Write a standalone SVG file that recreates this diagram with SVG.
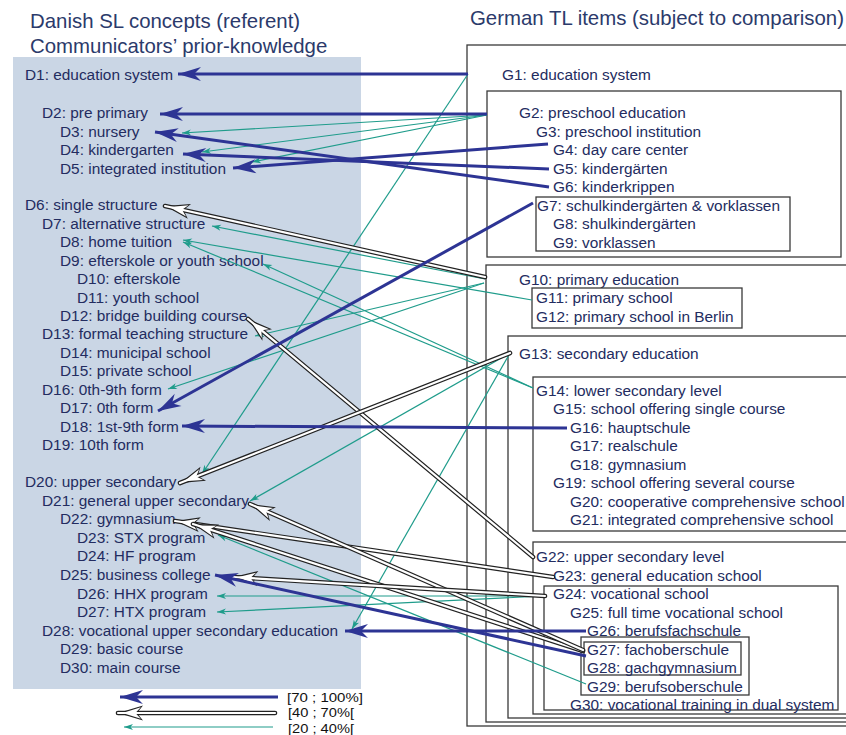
<svg xmlns="http://www.w3.org/2000/svg" width="846" height="735" viewBox="0 0 846 735">
<style>
text{font-family:"Liberation Sans",Arial,sans-serif}
.t{font-size:15.4px;fill:#232c60}
.title{font-size:20.4px;fill:#2b3a6b}
.leg{font-size:13.2px;fill:#111}
.box{fill:none;stroke:#3a3a3a;stroke-width:1.3}
.blue{fill:none;stroke:#2d3494;stroke-width:3;marker-end:url(#mBlue)}
.teal{fill:none;stroke:#1f9c8b;stroke-width:1.2;marker-end:url(#mTeal)}
.ho{fill:none;stroke:#222;stroke-width:4.6;stroke-linecap:round;marker-end:url(#mHolO)}
.hi{fill:none;stroke:#fff;stroke-width:2.2;stroke-linecap:round;marker-end:url(#mHolI)}
</style>
<defs>
<marker id="mBlue" markerUnits="userSpaceOnUse" viewBox="-30 -10 32 20" refX="0" refY="0" markerWidth="32" markerHeight="20" orient="auto" overflow="visible"><path d="M0,0 L-23,-7 L-16,0 L-23,7 Z" fill="#2d3494"/></marker>
<marker id="mTeal" markerUnits="userSpaceOnUse" viewBox="-30 -10 32 20" refX="0" refY="0" markerWidth="32" markerHeight="20" orient="auto" overflow="visible"><path d="M0,0 L-9,-3 L-6.5,0 L-9,3 Z" fill="#1f9c8b"/></marker>
<marker id="mHolO" markerUnits="userSpaceOnUse" viewBox="-30 -10 32 20" refX="0" refY="0" markerWidth="32" markerHeight="20" orient="auto" overflow="visible"><path d="M0,0 L-25,-7.5 L-19,0 L-25,7.5 Z" fill="#222"/></marker>
<marker id="mHolI" markerUnits="userSpaceOnUse" viewBox="-30 -10 32 20" refX="0" refY="0" markerWidth="32" markerHeight="20" orient="auto" overflow="visible"><path d="M-4.5,0 L-22.8,-5.7 L-17.4,0 L-22.8,5.7 Z" fill="#fff"/></marker>
</defs>
<rect width="846" height="735" fill="#fff"/>
<rect id="panel" x="13" y="57" width="348" height="632" fill="#cad6e5"/>
<g id="titles">
<text class="title" x="30" y="28">Danish SL concepts (referent)</text>
<text class="title" x="30" y="53">Communicators’ prior-knowledge</text>
<text class="title" x="470" y="25">German TL items (subject to comparison)</text>
</g>
<g id="danish">
<g id="D1"><text class="t" x="25" y="80">D1: education system</text></g>
<g id="D2"><text class="t" x="42" y="118">D2: pre primary</text></g>
<g id="D3"><text class="t" x="60" y="136.5">D3: nursery</text></g>
<g id="D4"><text class="t" x="60" y="155">D4: kindergarten</text></g>
<g id="D5"><text class="t" x="60" y="173.5">D5: integrated institution</text></g>
<g id="D6"><text class="t" x="25" y="210">D6: single structure</text></g>
<g id="D7"><text class="t" x="42" y="228.5">D7: alternative structure</text></g>
<g id="D8"><text class="t" x="60" y="247">D8: home tuition</text></g>
<g id="D9"><text class="t" x="60" y="265.5">D9: efterskole or youth school</text></g>
<g id="D10"><text class="t" x="77" y="284">D10: efterskole</text></g>
<g id="D11"><text class="t" x="77" y="302.5">D11: youth school</text></g>
<g id="D12"><text class="t" x="60" y="321">D12: bridge building course</text></g>
<g id="D13"><text class="t" x="42" y="339">D13: formal teaching structure</text></g>
<g id="D14"><text class="t" x="60" y="357.5">D14: municipal school</text></g>
<g id="D15"><text class="t" x="60" y="376">D15: private school</text></g>
<g id="D16"><text class="t" x="42" y="394.5">D16: 0th-9th form</text></g>
<g id="D17"><text class="t" x="60" y="413">D17: 0th form</text></g>
<g id="D18"><text class="t" x="60" y="431.5">D18: 1st-9th form</text></g>
<g id="D19"><text class="t" x="42" y="450">D19: 10th form</text></g>
<g id="D20"><text class="t" x="25" y="487">D20: upper secondary</text></g>
<g id="D21"><text class="t" x="42" y="505.5">D21: general upper secondary</text></g>
<g id="D22"><text class="t" x="60" y="524">D22: gymnasium</text></g>
<g id="D23"><text class="t" x="77" y="542.5">D23: STX program</text></g>
<g id="D24"><text class="t" x="77" y="561">D24: HF program</text></g>
<g id="D25"><text class="t" x="60" y="580">D25: business college</text></g>
<g id="D26"><text class="t" x="77" y="598.5">D26: HHX program</text></g>
<g id="D27"><text class="t" x="77" y="617">D27: HTX program</text></g>
<g id="D28"><text class="t" x="42" y="635.5">D28: vocational upper secondary education</text></g>
<g id="D29"><text class="t" x="60" y="654">D29: basic course</text></g>
<g id="D30"><text class="t" x="60" y="672.5">D30: main course</text></g>
</g>
<g id="german">
<g id="G1"><rect class="box" x="467" y="45" width="420" height="681"/><text class="t" x="502" y="80">G1: education system</text></g>
<g id="G2"><rect class="box" x="487" y="91" width="354" height="166"/><text class="t" x="519" y="118">G2: preschool education</text></g>
<g id="G3"><text class="t" x="536" y="136.5">G3: preschool institution</text></g>
<g id="G4"><text class="t" x="553" y="155">G4: day care center</text></g>
<g id="G5"><text class="t" x="553" y="173.5">G5: kindergärten</text></g>
<g id="G6"><text class="t" x="553" y="192">G6: kinderkrippen</text></g>
<g id="G7"><rect class="box" x="536" y="197" width="254" height="54"/><text class="t" x="537" y="210.5">G7: schulkindergärten &amp; vorklassen</text></g>
<g id="G8"><text class="t" x="553" y="229">G8: shulkindergärten</text></g>
<g id="G9"><text class="t" x="553" y="247.5">G9: vorklassen</text></g>
<g id="G10"><rect class="box" x="486" y="265" width="420" height="457"/><text class="t" x="519" y="284.5">G10: primary education</text></g>
<g id="G11"><rect class="box" x="532" y="288" width="210" height="40"/><text class="t" x="536" y="303">G11: primary school</text></g>
<g id="G12"><text class="t" x="536" y="321.5">G12: primary school in Berlin</text></g>
<g id="G13"><rect class="box" x="508" y="336" width="420" height="382"/><text class="t" x="519" y="358.5">G13: secondary education</text></g>
<g id="G14"><rect class="box" x="533" y="377" width="420" height="154"/><text class="t" x="536" y="395.5">G14: lower secondary level</text></g>
<g id="G15"><text class="t" x="553" y="414">G15: school offering single course</text></g>
<g id="G16"><text class="t" x="570" y="432.5">G16: hauptschule</text></g>
<g id="G17"><text class="t" x="570" y="451">G17: realschule</text></g>
<g id="G18"><text class="t" x="570" y="469.5">G18: gymnasium</text></g>
<g id="G19"><text class="t" x="553" y="488">G19: school offering several course</text></g>
<g id="G20"><text class="t" x="570" y="506.5">G20: cooperative comprehensive school</text></g>
<g id="G21"><text class="t" x="570" y="525">G21: integrated comprehensive school</text></g>
<g id="G22"><rect class="box" x="533" y="542" width="420" height="172"/><text class="t" x="536" y="562">G22: upper secondary level</text></g>
<g id="G23"><text class="t" x="553" y="580.5">G23: general education school</text></g>
<g id="G24"><rect class="box" x="544" y="586" width="294" height="124"/><text class="t" x="553" y="599">G24: vocational school</text></g>
<g id="G25"><text class="t" x="570" y="617.5">G25: full time vocational school</text></g>
<g id="G26"><text class="t" x="587" y="636">G26: berufsfachschule</text></g>
<g id="G27"><rect class="box" x="581" y="637" width="168" height="58"/><rect class="box" x="584" y="642" width="157" height="33"/><text class="t" x="587" y="654.5">G27: fachoberschule</text></g>
<g id="G28"><text class="t" x="587" y="673">G28: gachgymnasium</text></g>
<g id="G29"><text class="t" x="587" y="691.5">G29: berufsoberschule</text></g>
<g id="G30"><text class="t" x="570" y="710">G30: vocational training in dual system</text></g>
</g>
<g id="connectors">
<path class="teal" d="M468,74 L202,474"/>
<path class="teal" d="M487,115 L182,133"/>
<path class="teal" d="M487,115 L202,152"/>
<path class="teal" d="M487,115 L252,162"/>
<path class="teal" d="M485,279 L212,226"/>
<path class="teal" d="M532,300 L183,240"/>
<path class="teal" d="M533,388 L183,242"/>
<path class="teal" d="M533,388 L263,264"/>
<path class="teal" d="M484,283 L255,336"/>
<path class="teal" d="M484,283 L168,389"/>
<path class="teal" d="M510,353 L250,501"/>
<path class="teal" d="M510,353 L352,629"/>
<path class="teal" d="M544,596 L217,596"/>
<path class="teal" d="M544,596 L217,612"/>
<path class="teal" d="M586,684 L218,535"/>
<path class="ho" d="M485,277 L165,206"/><path class="hi" d="M485,277 L165,206"/>
<path class="ho" d="M533,557 L248,319"/><path class="hi" d="M533,557 L248,319"/>
<path class="ho" d="M510,353 L180,483"/><path class="hi" d="M510,353 L180,483"/>
<path class="ho" d="M553,577 L175,521"/><path class="hi" d="M553,577 L175,521"/>
<path class="ho" d="M583,651 L193,524"/><path class="hi" d="M583,651 L193,524"/>
<path class="ho" d="M583,650 L250,504"/><path class="hi" d="M583,650 L250,504"/>
<path class="ho" d="M545,596 L233,577"/><path class="hi" d="M545,596 L233,577"/>
<path class="blue" d="M468,74 L178,74"/>
<path class="blue" d="M487,114 L160,114"/>
<path class="blue" d="M548,144 L233,168"/>
<path class="blue" d="M549,169 L183,154"/>
<path class="blue" d="M549,187 L155,132"/>
<path class="blue" d="M533,203 L158,411"/>
<path class="blue" d="M567,428 L182,426"/>
<path class="blue" d="M586,631 L345,631"/>
<path class="blue" d="M586,656 L215,575"/>
</g>
<g id="legend">
<path class="blue" d="M278,697 L120,697"/>
<path class="ho" d="M275,713 L118,713"/><path class="hi" d="M275,713 L118,713"/>
<path class="teal" d="M273,727 L124,727"/>
<text class="leg" x="287" y="701.5" textLength="76" lengthAdjust="spacingAndGlyphs">[70 ; 100%]</text>
<text class="leg" x="288" y="717" textLength="66" lengthAdjust="spacingAndGlyphs">[40 ; 70%[</text>
<text class="leg" x="288" y="732.5" textLength="66" lengthAdjust="spacingAndGlyphs">[20 ; 40%[</text>
</g>
</svg>
